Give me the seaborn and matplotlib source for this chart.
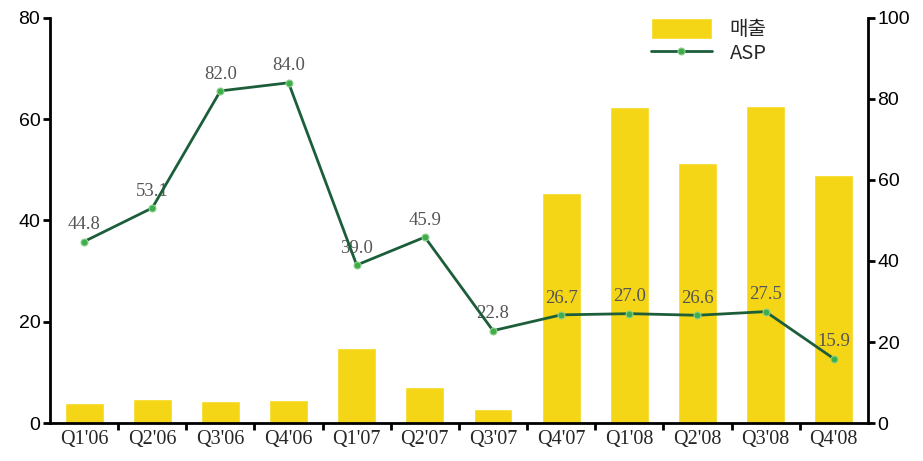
import numpy as np
import matplotlib
matplotlib.use('Agg')
import matplotlib.pyplot as plt
import seaborn as sns
from matplotlib.ticker import FixedLocator

sns.set_style('white')
plt.rcParams['font.family'] = ['Liberation Sans', 'Noto Sans CJK KR', 'DejaVu Sans']

# 데이터
quarters = ["Q1'06", "Q2'06", "Q3'06", "Q4'06", "Q1'07", "Q2'07",
            "Q3'07", "Q4'07", "Q1'08", "Q2'08", "Q3'08", "Q4'08"]
sales = [3.9, 4.7, 4.4, 4.5, 14.8, 7.2, 2.7, 45.5, 62.5, 51.3, 62.6, 49.0]
asp = [44.8, 53.1, 82.0, 84.0, 39.0, 45.9, 22.8, 26.7, 27.0, 26.6, 27.5, 15.9]

bar_color = '#F5D616'
line_color = '#1D5E3A'
marker_color = '#3FAE4A'

fig = plt.figure(figsize=(9.23, 4.61), dpi=100)
ax = fig.add_axes([0.0542, 0.0824, 0.886, 0.8786])

# 매출 막대
sns.barplot(x=quarters, y=sales, color=bar_color, width=0.57, ax=ax,
            saturation=1, label='매출')
ax.set_xlim(-0.5, len(quarters) - 0.5)
ax.set_ylim(0, 80)
ax.set_yticks([0, 20, 40, 60, 80])
ax.set_xlabel('')
ax.set_ylabel('')
if ax.get_legend() is not None:
    ax.get_legend().remove()

# ASP 라인 (오른쪽 축)
ax2 = ax.twinx()
x = np.arange(len(quarters))
sns.lineplot(x=x, y=asp, ax=ax2, color=line_color, linewidth=2, marker='o',
             markersize=5, markerfacecolor=marker_color, markeredgecolor='#8FD18F',
             markeredgewidth=0.8, label='ASP', legend=False)
ax2.set_ylim(0, 100)
ax2.set_yticks([0, 20, 40, 60, 80, 100])
ax2.set_xlim(-0.5, len(quarters) - 0.5)

for i, v in enumerate(asp):
    ax2.annotate(f'{v:.1f}', (i, v), xytext=(0, 6), textcoords='offset points',
                 ha='center', va='bottom', color='#555555', fontsize=13.5,
                 family='Liberation Serif', zorder=1)

# 축 스타일
for a in (ax, ax2):
    a.spines['top'].set_visible(False)
    for s in ('left', 'bottom', 'right'):
        a.spines[s].set_linewidth(2)
        a.spines[s].set_color('black')
    a.tick_params(axis='y', labelsize=14, length=5, width=2, direction='out',
                  colors='black', pad=2)
ax.spines['right'].set_visible(False)
ax2.spines['left'].set_visible(False)
ax2.spines['bottom'].set_visible(False)
ax.tick_params(axis='y', left=True)
ax2.tick_params(axis='y', right=True)

# x축 눈금: 카테고리 사이
ax.set_xticks(x)
ax.set_xticklabels(quarters, family='Liberation Serif', fontsize=14.5)
ax.tick_params(axis='x', which='major', length=0, pad=5)
ax.xaxis.set_minor_locator(FixedLocator(np.arange(0.5, len(quarters) - 1, 1)))
ax.tick_params(axis='x', which='minor', bottom=True, length=5, width=2,
               direction='out', color='black')

# 범례
h1, l1 = ax.get_legend_handles_labels()
h2, l2 = ax2.get_legend_handles_labels()
ax2.legend(h1 + h2, l1 + l2, loc='upper left', bbox_to_anchor=(0.713, 1.045),
           frameon=False, handlelength=3.0, handleheight=1.2, handletextpad=0.9,
           labelspacing=0.1, prop={'family': ['Noto Sans CJK KR'], 'size': 14.5})

fig.savefig('out.png', dpi=100)
